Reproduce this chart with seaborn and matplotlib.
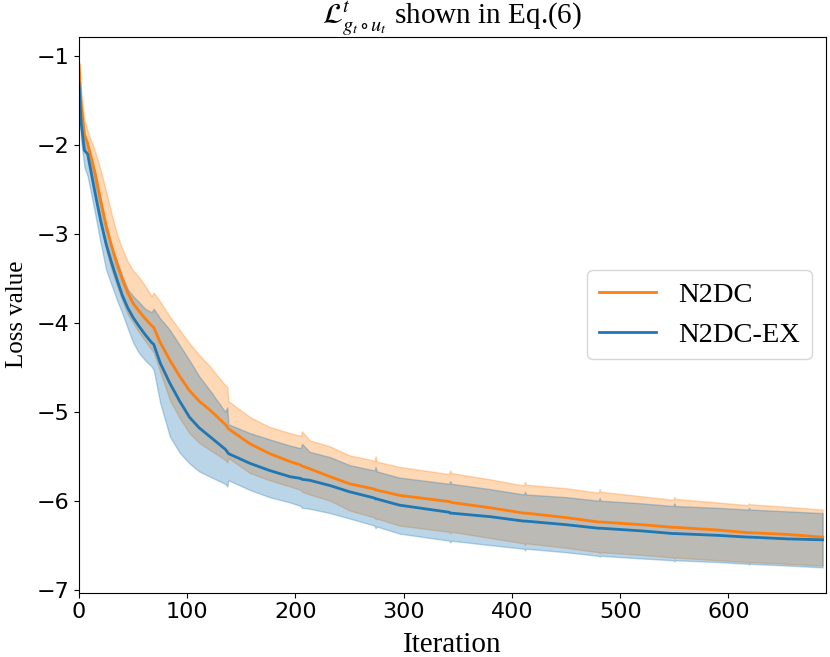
import numpy as np
import pandas as pd
import matplotlib
matplotlib.use("Agg")
import matplotlib.pyplot as plt
import seaborn as sns

iterations = [0, 2, 5, 8, 15, 20, 25, 30, 35, 40, 45, 50, 55, 61, 67, 69, 75, 84, 93, 102, 111,
              121, 135, 137, 138, 158, 176, 195, 205, 206, 213, 232, 250, 273, 274, 275, 296,
              342, 343, 344, 380, 411, 412, 413, 450, 480, 481, 482, 520, 549, 550, 551, 590,
              618, 619, 620, 655, 687]

n2dc_mean = [-1.10, -1.55, -1.88, -1.98, -2.32, -2.62, -2.90, -3.13, -3.33, -3.51, -3.66, -3.78,
             -3.86, -3.95, -4.03, -4.05, -4.22, -4.42, -4.60, -4.76, -4.88, -4.98, -5.14, -5.17,
             -5.19, -5.36, -5.47, -5.56, -5.60, -5.61, -5.64, -5.73, -5.81, -5.87, -5.88, -5.88,
             -5.94, -6.01, -6.01, -6.02, -6.08, -6.14, -6.14, -6.14, -6.19, -6.24, -6.24, -6.24,
             -6.27, -6.30, -6.30, -6.30, -6.33, -6.36, -6.36, -6.36, -6.38, -6.41]
n2dc_upper = [-1.065, -1.40, -1.72, -1.84, -2.08, -2.28, -2.52, -2.77, -3.00, -3.17, -3.31, -3.41,
              -3.48, -3.58, -3.70, -3.66, -3.76, -3.93, -4.08, -4.23, -4.36, -4.49, -4.70, -4.72,
              -4.88, -5.06, -5.17, -5.24, -5.27, -5.22, -5.32, -5.39, -5.49, -5.55, -5.50, -5.56,
              -5.62, -5.70, -5.66, -5.69, -5.76, -5.83, -5.79, -5.82, -5.86, -5.91, -5.87, -5.90,
              -5.95, -5.99, -5.96, -5.98, -6.02, -6.05, -6.03, -6.04, -6.07, -6.10]
n2dc_lower = [-1.15, -1.70, -2.00, -2.12, -2.48, -2.85, -3.18, -3.40, -3.58, -3.75, -3.90, -4.00,
              -4.10, -4.20, -4.30, -4.33, -4.55, -4.87, -5.07, -5.24, -5.35, -5.43, -5.54, -5.57,
              -5.52, -5.69, -5.77, -5.84, -5.88, -5.90, -5.93, -6.00, -6.11, -6.19, -6.21, -6.20,
              -6.28, -6.35, -6.37, -6.35, -6.42, -6.48, -6.50, -6.48, -6.53, -6.58, -6.59, -6.58,
              -6.61, -6.64, -6.65, -6.64, -6.67, -6.69, -6.70, -6.69, -6.71, -6.73]

n2dcex_mean = [-1.30, -1.75, -2.06, -2.10, -2.55, -2.85, -3.11, -3.32, -3.51, -3.69, -3.83, -3.94,
               -4.03, -4.13, -4.22, -4.24, -4.45, -4.68, -4.88, -5.06, -5.18, -5.28, -5.42, -5.45,
               -5.47, -5.58, -5.66, -5.73, -5.75, -5.76, -5.77, -5.83, -5.90, -5.97, -5.98, -5.98,
               -6.05, -6.13, -6.14, -6.14, -6.18, -6.23, -6.23, -6.23, -6.27, -6.31, -6.31, -6.31,
               -6.34, -6.37, -6.37, -6.37, -6.39, -6.41, -6.41, -6.41, -6.43, -6.44]
n2dcex_upper = [-1.20, -1.55, -1.92, -2.00, -2.40, -2.68, -2.95, -3.14, -3.30, -3.47, -3.62, -3.70,
                -3.76, -3.84, -3.88, -3.84, -3.95, -4.08, -4.25, -4.42, -4.60, -4.76, -5.00, -4.95,
                -5.14, -5.24, -5.31, -5.38, -5.41, -5.36, -5.45, -5.51, -5.60, -5.66, -5.62, -5.67,
                -5.74, -5.81, -5.78, -5.81, -5.87, -5.93, -5.90, -5.93, -5.96, -6.00, -5.97, -6.00,
                -6.03, -6.06, -6.03, -6.06, -6.08, -6.10, -6.08, -6.10, -6.12, -6.14]
n2dcex_lower = [-1.40, -1.95, -2.25, -2.35, -2.78, -3.10, -3.40, -3.57, -3.74, -3.89, -4.06, -4.22,
                -4.33, -4.42, -4.49, -4.53, -4.90, -5.28, -5.46, -5.58, -5.67, -5.73, -5.81, -5.84,
                -5.77, -5.88, -5.96, -6.02, -6.06, -6.08, -6.09, -6.14, -6.20, -6.28, -6.31, -6.29,
                -6.37, -6.45, -6.47, -6.45, -6.50, -6.54, -6.56, -6.54, -6.58, -6.62, -6.63, -6.62,
                -6.65, -6.67, -6.68, -6.67, -6.69, -6.71, -6.72, -6.71, -6.73, -6.75]

methods = ["N2DC", "N2DC-EX"]
colors = {"N2DC": "#ff7f0e", "N2DC-EX": "#1f77b4"}

df = pd.DataFrame({
    "Iteration": iterations * 2,
    "Loss value": n2dc_mean + n2dcex_mean,
    "method": ["N2DC"] * len(iterations) + ["N2DC-EX"] * len(iterations),
})

plt.rcParams["mathtext.fontset"] = "stix"
serif = ["Liberation Serif", "DejaVu Serif"]

fig = plt.figure(figsize=(8.3, 6.57), dpi=100)
ax = fig.add_axes([0.0952, 0.098, 0.8998, 0.846])

ax.fill_between(iterations, n2dc_lower, n2dc_upper, color=colors["N2DC"], alpha=0.3)
ax.fill_between(iterations, n2dcex_lower, n2dcex_upper, color=colors["N2DC-EX"], alpha=0.3)
sns.lineplot(data=df, x="Iteration", y="Loss value", hue="method", hue_order=methods,
             palette=colors, linewidth=2, ax=ax, estimator=None, sort=True)

ax.set_xlim(0, 690)
ax.tick_params(labelsize=16)
ax.set_xlabel("Iteration", fontsize=21, family=serif, labelpad=7)
ax.set_ylabel("Loss value", fontsize=18, family=serif)
ax.yaxis.set_label_coords(-0.068, 0.5)
ax.set_title(r"$\mathcal{L}^t_{g_t\circ u_t}$ shown in Eq.(6)", fontsize=21, family=serif, pad=0)
leg = ax.legend(loc="center right", prop={"family": serif, "size": 20.5}, title=None)

fig.savefig("out.png", dpi=100)
